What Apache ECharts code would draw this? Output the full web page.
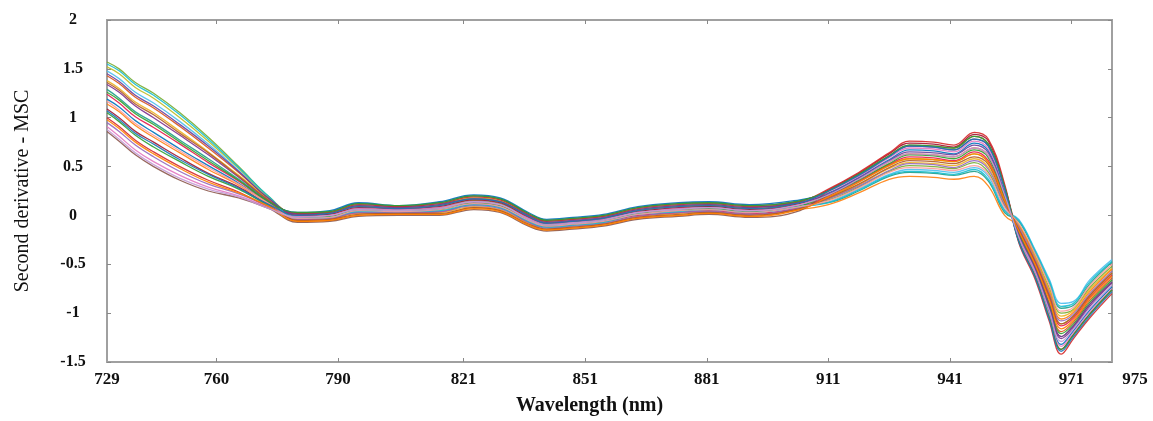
<!DOCTYPE html>
<html>
<head>
<meta charset="utf-8">
<script src="https://cdn.jsdelivr.net/npm/echarts@6/dist/echarts.min.js"></script>
<style>
  html, body { margin: 0; padding: 0; background: #fff; }
  #chart { width: 1153px; height: 421px; }
</style>
</head>
<body>
<div id="chart"></div>
<script>
// Wavelengths (nm) where the spectra were read
const wavelengths = [733, 736, 740, 744.5, 751, 758, 765.5, 773,
    780, 788, 795, 805, 815, 823.5, 830, 837, 841.5, 848, 855.5, 864, 874, 881.5, 891.5, 904,
    911, 918.5, 926, 931, 937, 942, 947, 950.5, 954.5,
    958, 962, 965.5, 968.5, 971.5, 975.5, 981];

// Tick positions and the labels printed at them
const tickValues = [733, 760, 790, 821, 851, 881, 911, 941, 971, 981];
const tickLabels = ['729', '760', '790', '821', '851', '881', '911', '941', '971', '975'];

// Second derivative spectra (MSC), one array per sample
const s01 = [1.57, 1.50, 1.36, 1.25, 1.05, 0.80, 0.50, 0.19,
    -0.01, 0.01, 0.07, 0.06, 0.08, 0.15, 0.12, -0.03, -0.09, -0.07, -0.04, 0.04, 0.07, 0.09, 0.06, 0.12,
    0.16, 0.29, 0.45, 0.51, 0.50, 0.48, 0.54, 0.44, 0.10,
    -0.09, -0.41, -0.74, -1.00, -0.96, -0.74, -0.52];
const s02 = [1.52, 1.45, 1.31, 1.20, 1.00, 0.76, 0.48, 0.18,
    0.01, 0.03, 0.10, 0.08, 0.11, 0.18, 0.15, 0.00, -0.06, -0.04, -0.01, 0.06, 0.10, 0.11, 0.08, 0.14,
    0.19, 0.34, 0.51, 0.58, 0.57, 0.55, 0.63, 0.54, 0.16,
    -0.14, -0.47, -0.82, -1.11, -1.03, -0.82, -0.59];
const s03 = [1.48, 1.40, 1.26, 1.15, 0.96, 0.73, 0.46, 0.17,
    -0.03, -0.02, 0.05, 0.04, 0.06, 0.12, 0.09, -0.05, -0.11, -0.09, -0.06, 0.01, 0.05, 0.06, 0.03, 0.09,
    0.14, 0.27, 0.42, 0.47, 0.46, 0.44, 0.49, 0.40, 0.06,
    -0.04, -0.35, -0.65, -0.90, -0.88, -0.66, -0.45];
const s04 = [1.43, 1.35, 1.21, 1.10, 0.91, 0.69, 0.44, 0.17,
    0.00, 0.02, 0.09, 0.07, 0.10, 0.17, 0.14, -0.01, -0.08, -0.06, -0.03, 0.05, 0.09, 0.10, 0.07, 0.13,
    0.21, 0.37, 0.55, 0.63, 0.62, 0.60, 0.69, 0.61, 0.21,
    -0.17, -0.51, -0.89, -1.19, -1.09, -0.87, -0.64];
const s05 = [1.38, 1.30, 1.16, 1.05, 0.86, 0.65, 0.41, 0.16,
    -0.05, -0.04, 0.02, 0.02, 0.03, 0.09, 0.06, -0.08, -0.14, -0.12, -0.09, -0.01, 0.02, 0.04, 0.01, 0.07,
    0.17, 0.31, 0.48, 0.54, 0.53, 0.51, 0.58, 0.49, 0.13,
    -0.10, -0.42, -0.76, -1.03, -0.97, -0.76, -0.54];
const s06 = [1.34, 1.26, 1.12, 1.00, 0.82, 0.62, 0.39, 0.15,
    0.02, 0.04, 0.12, 0.09, 0.13, 0.20, 0.17, 0.02, -0.05, -0.03, 0.00, 0.08, 0.12, 0.13, 0.10, 0.15,
    0.25, 0.41, 0.60, 0.71, 0.70, 0.67, 0.78, 0.71, 0.27,
    -0.21, -0.56, -0.95, -1.26, -1.15, -0.93, -0.69];
const s07 = [1.29, 1.20, 1.06, 0.95, 0.77, 0.58, 0.37, 0.14,
    -0.02, 0.00, 0.06, 0.05, 0.07, 0.14, 0.11, -0.04, -0.10, -0.08, -0.05, 0.03, 0.06, 0.08, 0.05, 0.11,
    0.13, 0.25, 0.40, 0.44, 0.43, 0.41, 0.45, 0.35, 0.03,
    -0.06, -0.38, -0.69, -0.95, -0.92, -0.70, -0.48];
const s08 = [1.24, 1.15, 1.01, 0.90, 0.73, 0.54, 0.35, 0.13,
    -0.04, -0.03, 0.03, 0.03, 0.04, 0.11, 0.08, -0.07, -0.12, -0.10, -0.07, 0.00, 0.03, 0.05, 0.02, 0.08,
    0.20, 0.35, 0.52, 0.60, 0.59, 0.56, 0.65, 0.56, 0.18,
    -0.15, -0.48, -0.84, -1.13, -1.05, -0.84, -0.61];
const s09 = [1.19, 1.11, 0.97, 0.85, 0.68, 0.51, 0.33, 0.13,
    0.03, 0.05, 0.13, 0.10, 0.14, 0.21, 0.18, 0.03, -0.04, -0.02, 0.01, 0.09, 0.13, 0.14, 0.11, 0.16,
    0.23, 0.39, 0.57, 0.67, 0.66, 0.63, 0.74, 0.66, 0.24,
    -0.23, -0.59, -0.99, -1.32, -1.18, -0.97, -0.73];
const s10 = [1.14, 1.06, 0.92, 0.80, 0.64, 0.47, 0.31, 0.12,
    -0.06, -0.05, 0.00, 0.01, 0.01, 0.08, 0.05, -0.10, -0.15, -0.13, -0.10, -0.03, 0.00, 0.02, -0.01, 0.06,
    0.11, 0.23, 0.37, 0.40, 0.39, 0.37, 0.40, 0.30, 0.00,
    -0.11, -0.44, -0.78, -1.06, -0.99, -0.78, -0.55];
const s11 = [1.09, 1.00, 0.86, 0.75, 0.59, 0.43, 0.29, 0.11,
    0.00, 0.01, 0.08, 0.07, 0.09, 0.16, 0.13, -0.02, -0.08, -0.06, -0.03, 0.04, 0.08, 0.09, 0.06, 0.12,
    0.26, 0.43, 0.63, 0.74, 0.73, 0.70, 0.83, 0.76, 0.30,
    -0.26, -0.62, -1.04, -1.37, -1.22, -1.01, -0.76];
const s12 = [1.05, 0.96, 0.82, 0.70, 0.55, 0.40, 0.27, 0.10,
    -0.02, -0.01, 0.05, 0.05, 0.06, 0.13, 0.10, -0.05, -0.11, -0.09, -0.06, 0.02, 0.05, 0.07, 0.04, 0.10,
    0.21, 0.36, 0.53, 0.62, 0.61, 0.58, 0.67, 0.59, 0.19,
    -0.18, -0.53, -0.91, -1.21, -1.11, -0.89, -0.66];
const s13 = [1.00, 0.91, 0.77, 0.65, 0.50, 0.36, 0.24, 0.09,
    0.02, 0.03, 0.11, 0.09, 0.12, 0.19, 0.16, 0.01, -0.06, -0.04, -0.01, 0.07, 0.11, 0.12, 0.09, 0.14,
    0.27, 0.44, 0.64, 0.76, 0.75, 0.72, 0.85, 0.78, 0.32,
    -0.28, -0.65, -1.08, -1.42, -1.26, -1.05, -0.80];
const s14 = [0.95, 0.86, 0.72, 0.60, 0.45, 0.32, 0.22, 0.09,
    -0.04, -0.03, 0.03, 0.03, 0.04, 0.10, 0.07, -0.07, -0.13, -0.11, -0.08, -0.01, 0.03, 0.04, 0.01, 0.08,
    0.17, 0.30, 0.46, 0.53, 0.52, 0.49, 0.56, 0.47, 0.11,
    -0.12, -0.45, -0.80, -1.08, -1.01, -0.80, -0.57];
const s15 = [0.91, 0.81, 0.67, 0.55, 0.41, 0.29, 0.20, 0.08,
    -0.01, 0.00, 0.07, 0.06, 0.08, 0.14, 0.11, -0.03, -0.09, -0.07, -0.04, 0.03, 0.07, 0.08, 0.05, 0.11,
    0.24, 0.40, 0.59, 0.69, 0.68, 0.65, 0.76, 0.68, 0.26,
    -0.24, -0.60, -1.02, -1.34, -1.20, -0.99, -0.75];
const s16 = [0.86, 0.76, 0.62, 0.50, 0.36, 0.25, 0.18, 0.07,
    -0.07, -0.06, -0.01, 0.00, 0.00, 0.06, 0.03, -0.11, -0.16, -0.14, -0.11, -0.04, -0.01, 0.01, -0.02, 0.05,
    0.25, 0.42, 0.61, 0.72, 0.71, 0.69, 0.81, 0.73, 0.29,
    -0.20, -0.54, -0.93, -1.24, -1.13, -0.91, -0.68];
const s17 = [1.55, 1.48, 1.34, 1.23, 1.03, 0.78, 0.49, 0.19,
    -0.03, -0.02, 0.04, 0.04, 0.05, 0.11, 0.08, -0.06, -0.12, -0.10, -0.07, 0.01, 0.04, 0.06, 0.03, 0.09,
    0.13, 0.26, 0.41, 0.45, 0.44, 0.42, 0.47, 0.37, 0.05,
    -0.05, -0.36, -0.67, -0.93, -0.90, -0.68, -0.47];
const s18 = [1.45, 1.37, 1.23, 1.12, 0.93, 0.71, 0.45, 0.17,
    0.01, 0.02, 0.10, 0.08, 0.11, 0.17, 0.14, 0.00, -0.07, -0.05, -0.02, 0.06, 0.10, 0.11, 0.08, 0.13,
    0.22, 0.38, 0.56, 0.65, 0.64, 0.62, 0.72, 0.64, 0.22,
    -0.20, -0.54, -0.93, -1.24, -1.13, -0.91, -0.68];
const s19 = [1.36, 1.28, 1.14, 1.03, 0.84, 0.64, 0.40, 0.15,
    -0.05, -0.04, 0.01, 0.02, 0.02, 0.08, 0.05, -0.09, -0.14, -0.12, -0.09, -0.02, 0.01, 0.03, 0.00, 0.07,
    0.18, 0.32, 0.49, 0.56, 0.55, 0.53, 0.60, 0.52, 0.14,
    -0.14, -0.47, -0.82, -1.11, -1.03, -0.82, -0.59];
const s20 = [1.26, 1.18, 1.04, 0.93, 0.75, 0.56, 0.36, 0.14,
    0.03, 0.04, 0.12, 0.10, 0.13, 0.20, 0.17, 0.02, -0.05, -0.03, 0.00, 0.08, 0.12, 0.13, 0.10, 0.15,
    0.25, 0.42, 0.61, 0.72, 0.71, 0.69, 0.81, 0.73, 0.29,
    -0.26, -0.62, -1.04, -1.37, -1.22, -1.01, -0.76];
const s21 = [1.17, 1.08, 0.94, 0.82, 0.66, 0.49, 0.32, 0.12,
    -0.03, -0.02, 0.05, 0.04, 0.06, 0.12, 0.09, -0.05, -0.11, -0.09, -0.06, 0.01, 0.05, 0.06, 0.03, 0.09,
    0.15, 0.28, 0.44, 0.49, 0.48, 0.46, 0.51, 0.42, 0.08,
    -0.08, -0.39, -0.71, -0.98, -0.94, -0.72, -0.50];
const s22 = [1.07, 0.98, 0.84, 0.73, 0.57, 0.42, 0.28, 0.11,
    0.00, 0.02, 0.09, 0.07, 0.10, 0.17, 0.14, -0.01, -0.08, -0.06, -0.03, 0.05, 0.09, 0.10, 0.07, 0.13,
    0.25, 0.41, 0.60, 0.71, 0.70, 0.67, 0.78, 0.71, 0.27,
    -0.27, -0.63, -1.06, -1.39, -1.24, -1.03, -0.78];
const s23 = [0.98, 0.89, 0.75, 0.63, 0.48, 0.34, 0.23, 0.09,
    -0.06, -0.05, 0.00, 0.01, 0.01, 0.07, 0.04, -0.10, -0.15, -0.13, -0.10, -0.03, 0.00, 0.02, -0.01, 0.06,
    0.19, 0.34, 0.51, 0.58, 0.57, 0.55, 0.63, 0.54, 0.16,
    -0.16, -0.50, -0.86, -1.16, -1.07, -0.85, -0.62];
const s24 = [0.88, 0.78, 0.64, 0.52, 0.38, 0.27, 0.19, 0.07,
    -0.02, 0.00, 0.06, 0.05, 0.07, 0.14, 0.11, -0.04, -0.10, -0.08, -0.05, 0.03, 0.06, 0.08, 0.05, 0.11,
    0.21, 0.37, 0.55, 0.63, 0.62, 0.60, 0.69, 0.61, 0.21,
    -0.22, -0.57, -0.97, -1.29, -1.16, -0.95, -0.71];

const samples = [s01, s02, s03, s04, s05, s06, s07, s08, s09, s10, s11, s12,
    s13, s14, s15, s16, s17, s18, s19, s20, s21, s22, s23, s24];
const colors = ['#77ac30', '#bcbd22', '#4dbeee', '#d95319', '#edb120', '#7e2f8e', '#1f9e89', '#e6194b',
    '#0072bd', '#ff7f0e', '#a2142f', '#2ca02c', '#d62728', '#9467bd', '#e377c2', '#8c564b',
    '#17becf', '#6a3d9a', '#b15928', '#33a02c', '#fb9a99', '#1f78b4', '#ff7f00', '#c49bd6'];

var chart = echarts.init(document.getElementById('chart'));

var serif = "'Liberation Serif', 'Times New Roman', serif";
var frame = '#a0a0a0';

// one line per sample
var series = samples.map(function (vals, i) {
    return {
        name: 'S' + (i + 1),
        type: 'line',
        data: vals.map(function (v, j) { return [wavelengths[j], v]; }),
        smooth: 0.4,
        showSymbol: false,
        lineStyle: { width: 1.3, color: colors[i], opacity: 0.9 },
        itemStyle: { color: colors[i] }
    };
});

chart.setOption({
    animation: false,
    grid: {
        left: 107,
        right: 41,
        top: 20,
        bottom: 58,
        show: true,
        borderColor: frame,
        borderWidth: 2
    },
    xAxis: [{
        type: 'value',
        min: 733,
        max: 981,
        position: 'bottom',
        name: 'Wavelength (nm)',
        nameLocation: 'middle',
        nameGap: 34,
        nameTextStyle: {
            fontFamily: serif,
            fontWeight: 'bold',
            fontSize: 20,
            color: '#111',
            padding: [0, 40, 0, 0]
        },
        axisLine: { show: true, onZero: false, lineStyle: { color: frame, width: 2 } },
        axisTick: {
            show: true,
            inside: true,
            length: 4,
            customValues: tickValues.slice(1, -1),
            lineStyle: { color: '#888' }
        },
        axisLabel: {
            customValues: tickValues,
            margin: 9,
            fontFamily: serif,
            fontWeight: 'bold',
            fontSize: 17,
            color: '#111',
            formatter: function (value) {
                var i = tickValues.indexOf(value);
                if (i === tickValues.length - 1) {
                    return '{end|' + tickLabels[i] + '}';
                }
                return i >= 0 ? tickLabels[i] : '';
            },
            rich: {
                end: {
                    fontFamily: serif,
                    fontWeight: 'bold',
                    fontSize: 17,
                    color: '#111',
                    padding: [0, 0, 0, 46]
                }
            }
        },
        splitLine: { show: false }
    }, {
        type: 'value',
        min: 733,
        max: 981,
        position: 'top',
        axisLine: { show: true, onZero: false, lineStyle: { color: frame, width: 2 } },
        axisTick: {
            show: true,
            inside: true,
            length: 4,
            customValues: tickValues.slice(1, -1),
            lineStyle: { color: '#888' }
        },
        axisLabel: { show: false },
        splitLine: { show: false }
    }],
    yAxis: [{
        type: 'value',
        min: -1.5,
        max: 2,
        interval: 0.5,
        position: 'left',
        name: 'Second derivative - MSC',
        nameLocation: 'middle',
        nameGap: 74,
        nameTextStyle: {
            fontFamily: serif,
            fontSize: 20,
            color: '#111'
        },
        axisLine: { show: true, onZero: false, lineStyle: { color: frame, width: 2 } },
        axisTick: { show: true, inside: true, length: 4, lineStyle: { color: '#888' } },
        axisLabel: {
            margin: 34,
            align: 'center',
            fontFamily: serif,
            fontWeight: 'bold',
            fontSize: 16,
            color: '#111'
        },
        splitLine: { show: false }
    }, {
        type: 'value',
        min: -1.5,
        max: 2,
        interval: 0.5,
        position: 'right',
        axisLine: { show: true, onZero: false, lineStyle: { color: frame, width: 2 } },
        axisTick: { show: true, inside: true, length: 4, lineStyle: { color: '#888' } },
        axisLabel: { show: false },
        splitLine: { show: false }
    }],
    series: series
});

window.addEventListener('resize', function () {
    chart.resize();
});
</script>
</body>
</html>
